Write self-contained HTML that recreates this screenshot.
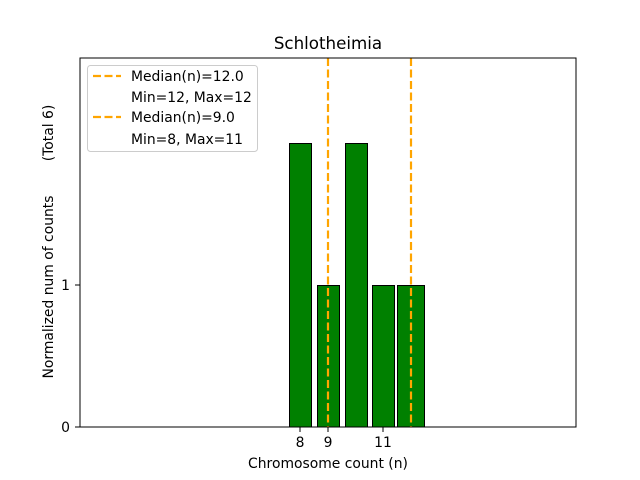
<!DOCTYPE html>
<html><head><style>body{margin:0;background:#fff}svg{display:block}text{font-family:"DejaVu Sans","Liberation Sans",sans-serif;fill:#000}</style></head>
<body>
<svg width="640" height="480" viewBox="0 0 640 480" xmlns="http://www.w3.org/2000/svg">
<rect width="640" height="480" fill="#fff"/>
<line x1="80" y1="427" x2="507" y2="427" stroke="#bbb" stroke-width="1"/>
<g fill="#008000" stroke="#000" stroke-width="1">
<rect x="289.5" y="143.5" width="22" height="283.5"/>
<rect x="317.5" y="285.5" width="22" height="141.5"/>
<rect x="345.5" y="143.5" width="22" height="283.5"/>
<rect x="372.5" y="285.5" width="22" height="141.5"/>
<rect x="397.5" y="285.5" width="27" height="141.5"/>
</g>
<g stroke="#FFA500" stroke-width="2.2" stroke-dasharray="8,3.5">
<line x1="328" y1="58" x2="328" y2="427"/>
<line x1="411" y1="58" x2="411" y2="427"/>
</g>
<rect x="80" y="58" width="496" height="369" fill="none" stroke="#000" stroke-width="1"/>
<g stroke="#000"><line x1="75" y1="427" x2="80" y2="427"/><line x1="75" y1="285" x2="80" y2="285"/>
<line x1="300" y1="427" x2="300" y2="432"/><line x1="328" y1="427" x2="328" y2="432"/><line x1="383" y1="427" x2="383" y2="432"/></g>
<g font-size="13.9">
<text x="70" y="432" text-anchor="end">0</text>
<text x="70" y="290" text-anchor="end">1</text>
<text x="300" y="447" text-anchor="middle">8</text>
<text x="328" y="447" text-anchor="middle">9</text>
<text x="383" y="447" text-anchor="middle">11</text>
<text x="328" y="468" text-anchor="middle">Chromosome count (n)</text>
<text transform="translate(53,287) rotate(-90)" text-anchor="middle">Normalized num of counts</text>
<text transform="translate(53,133) rotate(-90)" text-anchor="middle">(Total 6)</text>
</g>
<text x="328" y="49" text-anchor="middle" font-size="16.7">Schlotheimia</text>
<rect x="87.5" y="65.5" width="170" height="86" rx="3" fill="#fff" fill-opacity="0.8" stroke="#ccc"/>
<g stroke="#FFA500" stroke-width="2.2" stroke-dasharray="8,3.5"><line x1="93" y1="76" x2="121" y2="76"/><line x1="93" y1="117" x2="121" y2="117"/></g>
<g font-size="13.9">
<text x="131" y="81">Median(n)=12.0</text>
<text x="131" y="102">Min=12, Max=12</text>
<text x="131" y="122">Median(n)=9.0</text>
<text x="131" y="144">Min=8, Max=11</text>
</g>
</svg>
</body></html>
